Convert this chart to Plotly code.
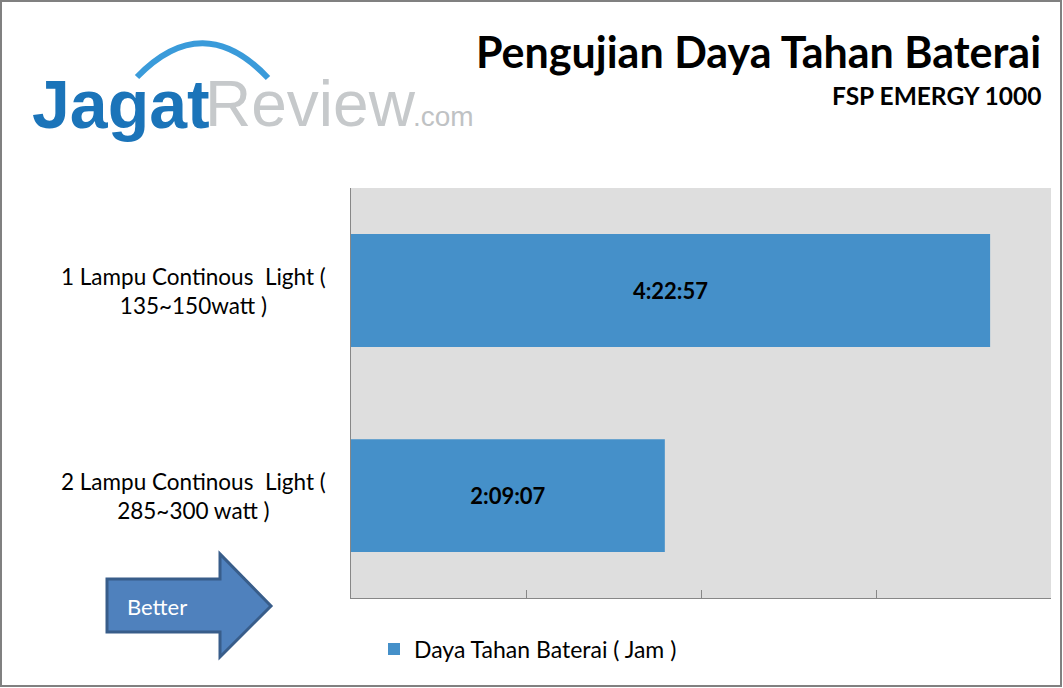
import plotly.graph_objects as go

categories = ["1 Lampu Continous  Light (<br>135~150watt )",
              "2 Lampu Continous  Light (<br>285~300 watt )"]
hours = [4 + 22/60 + 57/3600, 2 + 9/60 + 7/3600]
value_labels = ["4:22:57", "2:09:07"]
series_name = "Daya Tahan Baterai ( Jam )"

W, H = 1063, 688
L, R, T, B = 351, 1051, 188, 598
FONT = "Lato"
BAR = "#4590c9"

def px(x):
    return (x - L) / (R - L)

def py(y):
    return (B - y) / (B - T)

fig = go.Figure()
fig.add_trace(go.Bar(
    y=categories, x=hours, orientation="h", name=series_name,
    marker=dict(color=BAR, line=dict(width=0)),
    width=0.55, text=value_labels, textposition="inside", insidetextanchor="middle",
    textfont=dict(family=FONT, size=22, color="#000000", weight="bold"),
    showlegend=True,
))

annotations = []
for c in categories:
    annotations.append(dict(xref="paper", yref="y", x=px(193), y=c, text=c,
                            showarrow=False, xanchor="center", yanchor="middle",
                            align="center", font=dict(family=FONT, size=22.5, color="#000000")))

# title
annotations.append(dict(xref="paper", yref="paper", x=px(1043), y=py(52), text="<b>Pengujian Daya Tahan Baterai</b>",
                        showarrow=False, xanchor="right", yanchor="middle",
                        font=dict(family=FONT, size=43, color="#000000")))
annotations.append(dict(xref="paper", yref="paper", x=px(1043), y=py(95), text="<b>FSP EMERGY 1000</b>",
                        showarrow=False, xanchor="right", yanchor="middle",
                        font=dict(family=FONT, size=24.5, color="#000000")))
# logo
annotations.append(dict(xref="paper", yref="paper", x=px(30), y=py(104), text="<b>Jagat</b>",
                        showarrow=False, xanchor="left", yanchor="middle",
                        font=dict(family="Liberation Sans", size=68, color="#1b74b9")))
annotations.append(dict(xref="paper", yref="paper", x=px(203), y=py(104), text="Review",
                        showarrow=False, xanchor="left", yanchor="middle",
                        font=dict(family="Liberation Sans", size=64, color="#c6c9cb")))
annotations.append(dict(xref="paper", yref="paper", x=px(411), y=py(116), text=".com",
                        showarrow=False, xanchor="left", yanchor="middle",
                        font=dict(family="Liberation Sans", size=28, color="#bfc2c4")))
# arrow text
annotations.append(dict(xref="paper", yref="paper", x=px(125), y=py(606), text="Better",
                        showarrow=False, xanchor="left", yanchor="middle",
                        font=dict(family=FONT, size=22, color="#ffffff")))

shapes = []
# outer border
shapes.append(dict(type="rect", xref="paper", yref="paper", x0=px(1), y0=py(1), x1=px(1061), y1=py(686),
                   line=dict(color="#808080", width=2), fillcolor="rgba(0,0,0,0)", layer="above"))
# logo arc
x0, y0, cx, cy, x2, y2 = 137, 77, 203, 9, 268, 78
shapes.append(dict(type="path", xref="paper", yref="paper",
                   path=f"M {px(x0)},{py(y0)} Q {px(cx)},{py(cy)} {px(x2)},{py(y2)}",
                   line=dict(color="#3a9bda", width=6)))
# arrow
pts = [(107, 579), (220, 579), (220, 554), (271, 606), (220, 657), (220, 632), (107, 632)]
path = "M " + " L ".join(f"{px(a)},{py(b)}" for a, b in pts) + " Z"
shapes.append(dict(type="path", xref="paper", yref="paper", path=path,
                   fillcolor="#4f81bd", line=dict(color="#385d8a", width=3)))

fig.update_layout(
    width=W, height=H,
    margin=dict(l=L, r=W - R, t=T, b=H - B, pad=0),
    paper_bgcolor="#ffffff", plot_bgcolor="#dedede",
    bargap=0.45,
    xaxis=dict(range=[0, 4.8], dtick=1.2, tick0=0, showgrid=False, zeroline=False,
               showline=True, linecolor="#878787", linewidth=1,
               ticks="inside", ticklen=8, tickcolor="#878787", showticklabels=False, fixedrange=True),
    yaxis=dict(categoryorder="array", categoryarray=categories, autorange="reversed",
               showgrid=False, zeroline=False, showline=True, linecolor="#878787", linewidth=1,
               showticklabels=False, ticks="", fixedrange=True),
    legend=dict(orientation="h", x=px(374), y=py(649), xanchor="left", yanchor="middle",
                font=dict(family=FONT, size=23, color="#000000"), bgcolor="rgba(0,0,0,0)"),
    annotations=annotations, shapes=shapes,
    font=dict(family=FONT),
)

fig.write_html("out.html", config={"displayModeBar": False},
               post_script="document.body.style.margin='0';document.body.style.overflow='hidden';")
